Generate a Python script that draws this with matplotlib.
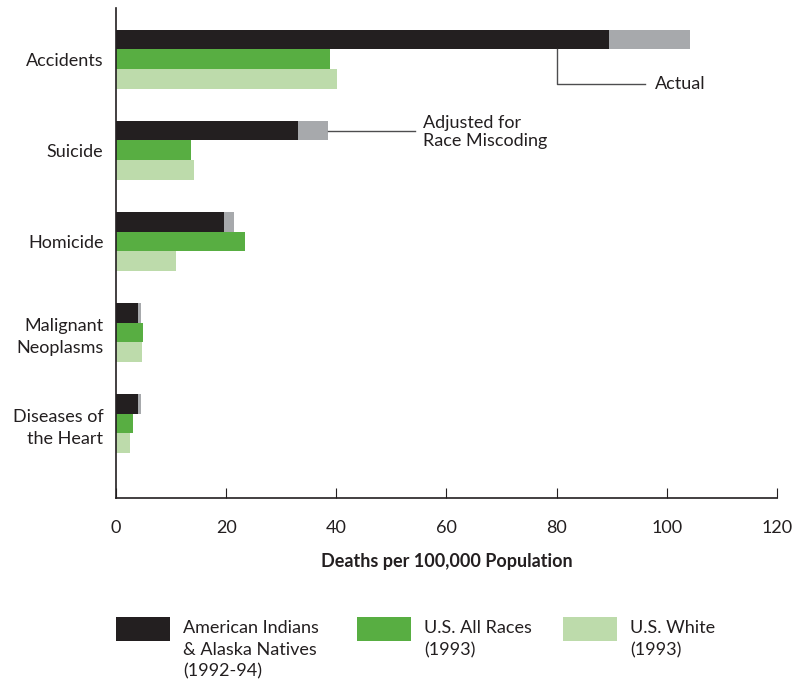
import matplotlib.pyplot as plt
from matplotlib.patches import Rectangle
import numpy as np

plt.rcParams['font.family'] = ['Lato', 'DejaVu Sans']

# causes of death, top to bottom
causes = ["Accidents", "Suicide", "Homicide", "Malignant\nNeoplasms", "Diseases of\nthe Heart"]

# American Indians & Alaska Natives: actual and adjusted for race miscoding
aian_actual = [89.5, 33.0, 19.6, 4.0, 4.0]
aian_adjusted = [104.3, 38.5, 21.4, 4.5, 4.5]
us_all = [38.9, 13.7, 23.4, 4.9, 3.1]
us_white = [40.1, 14.1, 10.9, 4.7, 2.5]

legend_labels = ["American Indians\n& Alaska Natives\n(1992-94)", "U.S. All Races\n(1993)", "U.S. White\n(1993)"]

c_black = "#231f20"
c_gray = "#a7a9ac"
c_green = "#58ae42"
c_light = "#bddbab"
fs = 13

fig = plt.figure(figsize=(8.02, 6.87), dpi=100)
ax = fig.add_axes([0.1446, 0.275, 0.8242, 0.713])

y = np.arange(len(causes))
h = 0.215
ax.barh(y - h, aian_adjusted, height=h, color=c_gray, align="center")
ax.barh(y - h, aian_actual, height=h, color=c_black, align="center")
ax.barh(y, us_all, height=h, color=c_green, align="center")
ax.barh(y + h, us_white, height=h, color=c_light, align="center")

ax.set_xlim(0, 120)
ax.set_ylim(4.82, -0.56)
ax.set_xticks(np.arange(0, 121, 20))
ax.tick_params(axis="x", direction="in", length=7, width=0.8, pad=16, labelsize=fs, colors="#231f20")
ax.set_yticks(y)
ax.set_yticklabels(causes, fontsize=fs, color="#231f20", linespacing=1.45)
ax.tick_params(axis="y", length=0, pad=9)
for s in ["top", "right"]:
    ax.spines[s].set_visible(False)
for s in ["left", "bottom"]:
    ax.spines[s].set_color("#231f20")
    ax.spines[s].set_linewidth(1.2)
ax.set_xlabel("Deaths per 100,000 Population", fontsize=fs, fontweight="bold",
              color="#231f20", labelpad=12)

# callouts
ax.plot([80, 80, 96], [0 - h / 2, 0.27, 0.27], color="#4d4d4f", lw=1, clip_on=False)
ax.text(97.8, 0.27, "Actual", fontsize=fs, va="center", color="#231f20")
ax.plot([aian_adjusted[1], 54.2], [1 - h, 1 - h], color="#4d4d4f", lw=1, clip_on=False)
ax.text(55.8, 1 - h - 0.17, "Adjusted for\nRace Miscoding", fontsize=fs, va="top",
        color="#231f20", linespacing=1.1)

# legend
colors = [c_black, c_green, c_light]
lx = [0.1446, 0.4451, 0.702]
for x0, c, lab in zip(lx, colors, legend_labels):
    fig.add_artist(Rectangle((x0, 1 - 641 / 687), 54 / 802, 24 / 687,
                             transform=fig.transFigure, color=c, lw=0))
    fig.text(x0 + 67 / 802, 1 - 620 / 687, lab, fontsize=fs, va="top",
             color="#231f20", linespacing=1.45)

fig.savefig("out.png", dpi=100)
